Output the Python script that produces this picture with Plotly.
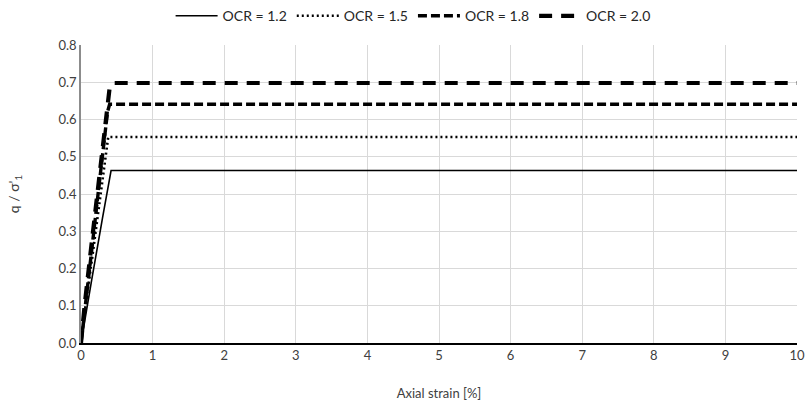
import plotly.graph_objects as go

# Stress ratio q/sigma'_1 against axial strain for four overconsolidation ratios
ocr_labels = ["OCR = 1.2", "OCR = 1.5", "OCR = 1.8", "OCR = 2.0"]

strain_12 = [0.0, 0.05, 0.15, 0.30, 0.42, 10.0]
q_12 = [0.0, 0.06, 0.17, 0.335, 0.463, 0.463]

strain_15 = [0.0, 0.05, 0.15, 0.25, 0.38, 10.0]
q_15 = [0.0, 0.08, 0.22, 0.36, 0.553, 0.553]

strain_18 = [0.0, 0.05, 0.15, 0.25, 0.37, 0.40, 10.0]
q_18 = [0.0, 0.09, 0.25, 0.42, 0.62, 0.641, 0.641]

strain_20 = [0.0, 0.05, 0.15, 0.25, 0.36, 0.40, 0.46, 10.0]
q_20 = [0.0, 0.10, 0.27, 0.44, 0.62, 0.685, 0.698, 0.698]

series = [
    (strain_12, q_12, "solid", 1.6),
    (strain_15, q_15, "2px,3px", 2.6),
    (strain_18, q_18, "9px,4px", 3.4),
    (strain_20, q_20, "13px,9px", 4.2),
]

fig = go.Figure()
for label, (xs, ys, dash, w) in zip(ocr_labels, series):
    fig.add_trace(go.Scatter(
        x=xs, y=ys, mode="lines", name=label,
        line=dict(color="black", width=w, dash=dash),
    ))

font_family = "Lato, Liberation Sans, sans-serif"
txt = "#404040"

fig.update_layout(
    width=810, height=405,
    margin=dict(l=81, r=13, t=45, b=62, autoexpand=False),
    paper_bgcolor="white", plot_bgcolor="white",
    font=dict(family=font_family, size=13, color=txt),
    showlegend=True,
    legend=dict(
        orientation="h", x=0.51, xanchor="center", xref="container",
        y=0.96, yref="container", yanchor="middle",
        font=dict(size=14, color="#262626"),
        itemwidth=42, tracegroupgap=0,
    ),
    xaxis=dict(
        range=[0, 10], dtick=1, tick0=0, automargin=False,
        showgrid=True, gridcolor="#d9d9d9", gridwidth=1,
        showline=True, linecolor="black", linewidth=1.5,
        zeroline=False, ticks="", tickfont=dict(size=13, color=txt),
        title=dict(text="Axial strain [%]", font=dict(size=13, color=txt), standoff=27),
    ),
    yaxis=dict(
        range=[0, 0.8], dtick=0.1, tick0=0, tickformat=".1f", automargin=False,
        showgrid=True, gridcolor="#d9d9d9", gridwidth=1,
        showline=True, linecolor="#8c8c8c", linewidth=1.5,
        zeroline=False, ticks="", tickfont=dict(size=13, color=txt),
        title=dict(text="q / σ'<sub>1</sub>", font=dict(size=14, color=txt), standoff=36),
    ),
)

fig.write_html("out.html")
